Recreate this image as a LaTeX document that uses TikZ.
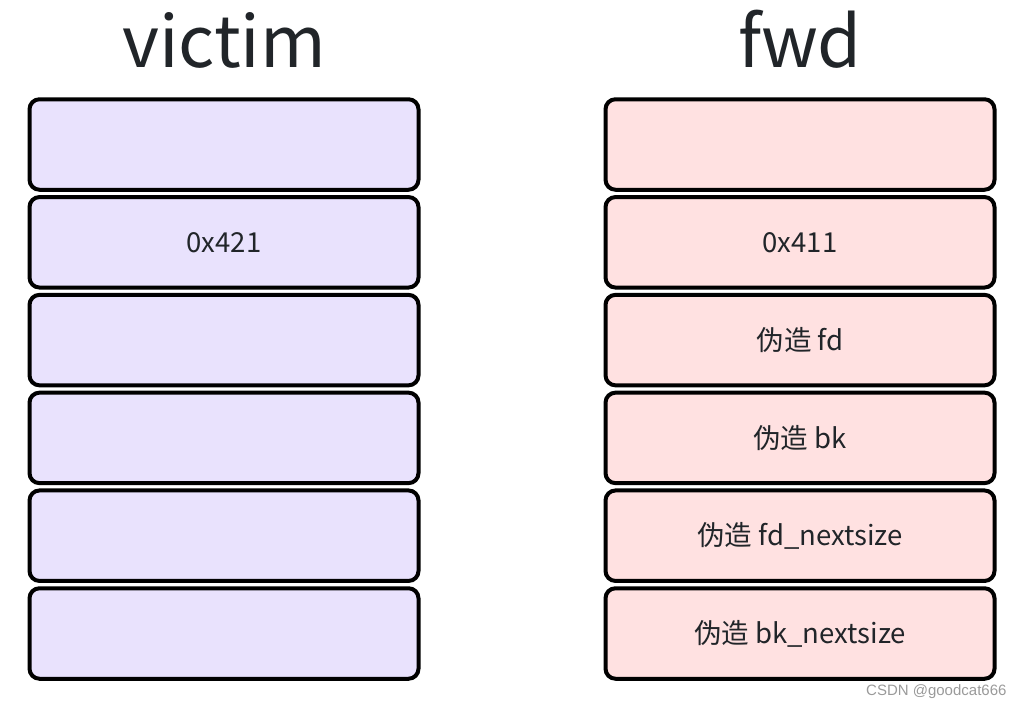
\documentclass[tikz,border=0pt]{standalone}
\usepackage{fontspec}
\setmainfont{Noto Sans CJK SC}
\newfontfamily\markfont{Liberation Sans}
\usetikzlibrary{positioning}
\definecolor{victimfill}{HTML}{E9E2FD}
\definecolor{fwdfill}{HTML}{FFE1E1}
\definecolor{inktext}{HTML}{212529}
\definecolor{markgray}{HTML}{9A9A9A}

\begin{document}
\begin{tikzpicture}[x=1pt,y=-1pt,
  slot/.style={draw=black,line width=4pt,rounded corners=10pt,
               minimum width=389pt,minimum height=90.5pt,inner sep=0pt,
               text=inktext,font=\fontsize{27.5}{32}\selectfont},
  title/.style={anchor=base,text=inktext,font=\fontsize{71}{75}\selectfont}]
  \useasboundingbox (0,0) rectangle (1024,709);

  \node[title] (victimtitle) at (224,67) {victim};
  \node[title] (fwdtitle) at (800,67) {fwd};

  % victim chunk
  \foreach \i/\lab in {1/{},2/0x421,3/{},4/{},5/{},6/{}}{
     \node[slot,fill=victimfill] (victim\i) at (224,{144.5+97.8*(\i-1)}) {\lab};
  }
  % fake fwd chunk
  \foreach \i/\lab in {1/{},2/0x411,3/{伪造 fd},4/{伪造 bk},
                       5/{伪造 fd\_nextsize},6/{伪造 bk\_nextsize}}{
     \node[slot,fill=fwdfill] (fwd\i) at (800,{144.5+97.8*(\i-1)}) {\lab};
  }

  \node[anchor=base east,text=markgray,font=\markfont\fontsize{15}{17}\selectfont]
     (watermark) at (1010,695) {CSDN @goodcat666};
\end{tikzpicture}
\end{document}
